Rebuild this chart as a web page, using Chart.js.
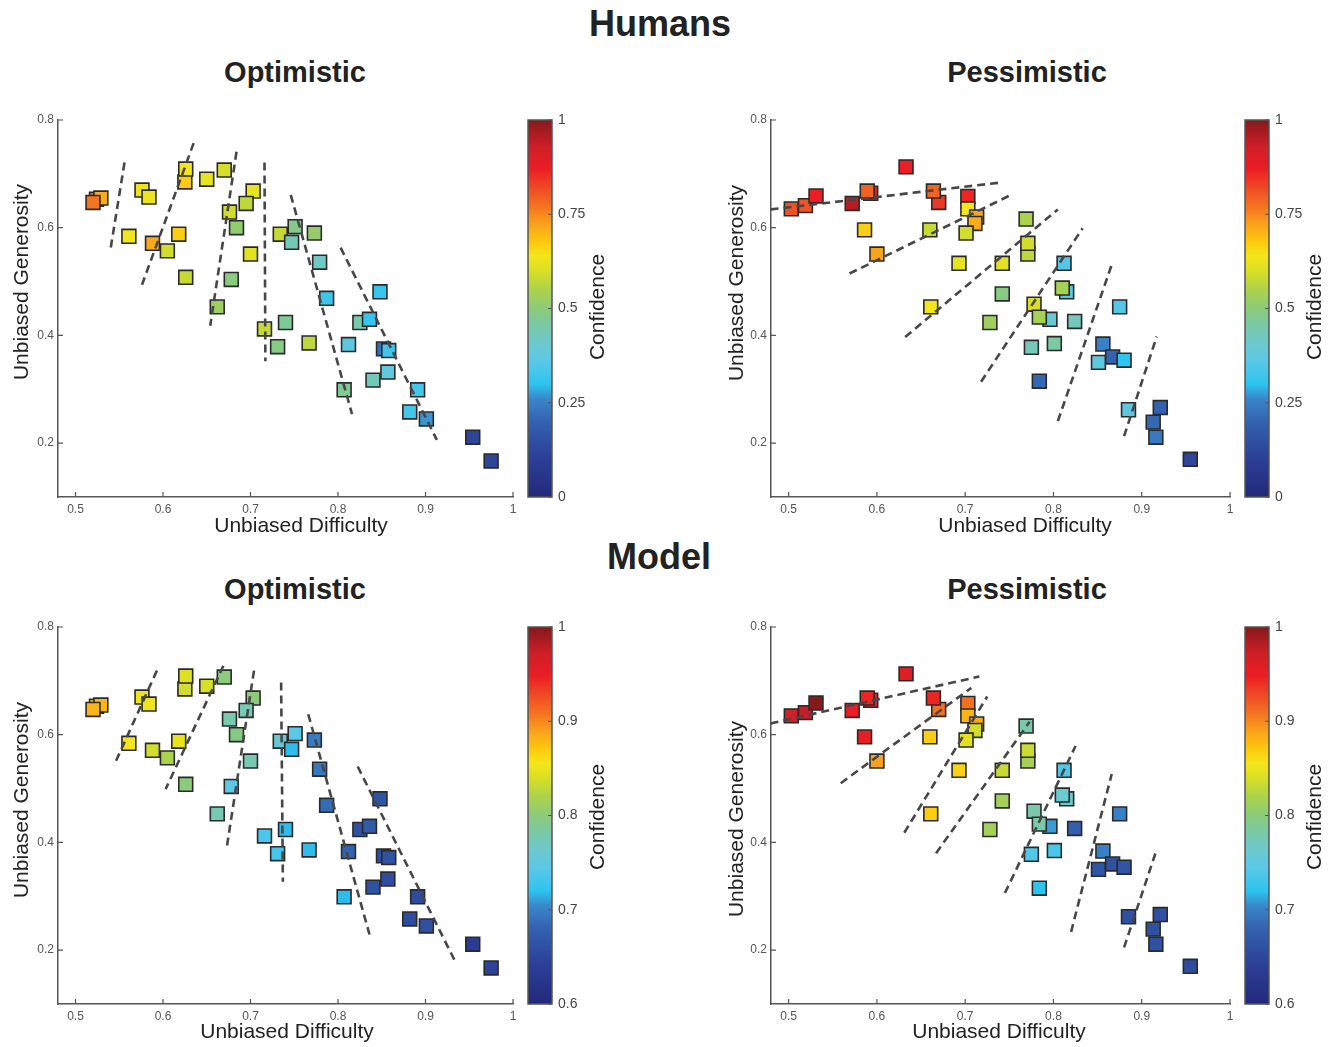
<!DOCTYPE html>
<html>
<head>
<meta charset="utf-8">
<script src="https://cdn.jsdelivr.net/npm/chart.js@4/dist/chart.umd.min.js"></script>
<style>
  html,body{margin:0;padding:0;background:#fff;}
  body{width:1335px;height:1047px;position:relative;overflow:hidden;font-family:"Liberation Sans",Arial,Helvetica,sans-serif;}
  .t{position:absolute;transform:translate(-50%,-50%);white-space:nowrap;font-weight:bold;color:#222;}
  .big{font-size:36px;}
  .sub{font-size:29px;}
  canvas{position:absolute;}
</style>
</head>
<body>
<div class="t big" style="left:660px;top:24px">Humans</div>
<div class="t big" style="left:659px;top:557px">Model</div>
<div class="t sub" style="left:295px;top:72px">Optimistic</div>
<div class="t sub" style="left:1027px;top:72px">Pessimistic</div>
<div class="t sub" style="left:295px;top:589px">Optimistic</div>
<div class="t sub" style="left:1027px;top:589px">Pessimistic</div>
<canvas id="c0" width="660" height="450" style="left:0px;top:100px"></canvas>
<canvas id="c1" width="635" height="450" style="left:700px;top:100px"></canvas>
<canvas id="c2" width="660" height="440" style="left:0px;top:607px"></canvas>
<canvas id="c3" width="635" height="440" style="left:700px;top:607px"></canvas>
<script>
// ---------------- DATA ----------------
const xTicks = [0.5, 0.6, 0.7, 0.8, 0.9, 1];
const yTicks = [0.2, 0.4, 0.6, 0.8];
const humanCbTicks = [0, 0.25, 0.5, 0.75, 1];
const modelCbTicks = [0.6, 0.7, 0.8, 0.9, 1];

// Optimistic condition: difficulty (x) and generosity (y)
const optX = [0.524,0.529,0.520,0.576,0.584,0.561,0.588,0.605,0.618,0.626,0.625,0.626,0.650,0.670,0.703,0.695,0.676,0.684,0.700,0.678,0.662,0.716,0.734,0.751,0.747,0.773,0.779,0.787,0.740,0.731,0.767,0.812,0.825,0.836,0.848,0.852,0.858,0.857,0.840,0.807,0.891,0.882,0.901,0.954,0.975];
const optY = [0.653,0.655,0.647,0.670,0.657,0.584,0.571,0.557,0.588,0.508,0.685,0.709,0.690,0.707,0.668,0.645,0.629,0.600,0.551,0.504,0.453,0.412,0.588,0.602,0.573,0.590,0.536,0.469,0.424,0.379,0.386,0.383,0.424,0.430,0.481,0.375,0.372,0.332,0.317,0.299,0.299,0.258,0.245,0.211,0.167];
const humanOptConf = [0.80,0.71,0.77,0.63,0.63,0.635,0.715,0.59,0.67,0.58,0.675,0.64,0.62,0.595,0.62,0.57,0.59,0.51,0.615,0.495,0.53,0.58,0.58,0.485,0.44,0.515,0.42,0.32,0.47,0.49,0.57,0.37,0.45,0.31,0.31,0.22,0.32,0.38,0.43,0.47,0.33,0.33,0.27,0.12,0.12];
const modelOptConf = [0.885,0.88,0.88,0.852,0.852,0.855,0.836,0.82,0.85,0.80,0.836,0.842,0.838,0.80,0.80,0.776,0.778,0.795,0.776,0.745,0.776,0.735,0.758,0.745,0.718,0.698,0.695,0.685,0.718,0.733,0.718,0.68,0.662,0.672,0.664,0.655,0.662,0.656,0.662,0.718,0.655,0.655,0.66,0.635,0.645];

// Pessimistic condition
const pesX = [0.503,0.519,0.531,0.572,0.593,0.589,0.633,0.670,0.664,0.703,0.703,0.713,0.711,0.701,0.660,0.586,0.600,0.693,0.742,0.661,0.742,0.728,0.769,0.771,0.771,0.812,0.815,0.810,0.778,0.796,0.784,0.824,0.875,0.775,0.801,0.784,0.856,0.851,0.867,0.880,0.885,0.921,0.913,0.916,0.955];
const pesY = [0.635,0.641,0.659,0.645,0.664,0.668,0.713,0.647,0.668,0.658,0.635,0.620,0.608,0.590,0.596,0.596,0.551,0.534,0.534,0.453,0.477,0.424,0.616,0.551,0.571,0.534,0.481,0.488,0.458,0.430,0.434,0.426,0.453,0.378,0.385,0.315,0.384,0.350,0.360,0.354,0.262,0.266,0.239,0.211,0.170];
const humanPesConf = [0.81,0.81,0.87,0.95,0.87,0.79,0.87,0.84,0.79,0.86,0.64,0.72,0.71,0.59,0.58,0.67,0.72,0.62,0.61,0.64,0.49,0.53,0.55,0.57,0.59,0.35,0.37,0.54,0.60,0.39,0.54,0.43,0.35,0.43,0.46,0.21,0.25,0.37,0.20,0.30,0.37,0.20,0.21,0.24,0.12];
const modelPesConf = [0.97,0.975,1.0,0.95,0.95,0.945,0.96,0.91,0.945,0.91,0.88,0.885,0.836,0.845,0.868,0.95,0.89,0.865,0.832,0.868,0.815,0.815,0.78,0.815,0.833,0.74,0.76,0.76,0.78,0.71,0.78,0.676,0.70,0.74,0.735,0.72,0.70,0.665,0.66,0.665,0.66,0.66,0.66,0.66,0.655];

// Dashed fit lines: [x1, y1, x2, y2]
const humanOptLines = [[0.556,0.721,0.540,0.560],[0.635,0.757,0.576,0.494],[0.684,0.741,0.654,0.418],[0.716,0.721,0.717,0.352],[0.746,0.661,0.816,0.254],[0.803,0.563,0.913,0.206]];
const humanPesLines = [[0.4795,0.634,0.741,0.684],[0.569,0.515,0.752,0.661],[0.632,0.397,0.805,0.634],[0.718,0.314,0.833,0.599],[0.805,0.241,0.867,0.536],[0.880,0.213,0.917,0.398]];
const modelOptLines = [[0.593,0.719,0.544,0.543],[0.669,0.728,0.603,0.499],[0.704,0.719,0.673,0.392],[0.735,0.697,0.737,0.327],[0.766,0.638,0.836,0.229],[0.8225,0.541,0.933,0.182]];
const modelPesLines = [[0.4795,0.621,0.716,0.708],[0.559,0.510,0.707,0.687],[0.631,0.418,0.725,0.671],[0.667,0.380,0.773,0.624],[0.745,0.306,0.825,0.579],[0.820,0.234,0.866,0.527],[0.880,0.205,0.917,0.387]];

// ---------------- STYLE ----------------
const FONT = '"Liberation Sans", Arial, Helvetica, sans-serif';
const cmapStops = [
  [0.00,'#22297a'],[0.10,'#2b3f95'],[0.20,'#3462ae'],[0.26,'#3a86ca'],[0.30,'#2ec4ef'],
  [0.36,'#5ac8e6'],[0.41,'#6ec9cc'],[0.46,'#7cc9a2'],[0.50,'#8ccb7a'],[0.55,'#abd24c'],
  [0.60,'#dadf24'],[0.64,'#f5e61a'],[0.68,'#fdc60e'],[0.72,'#f9a51b'],[0.77,'#f47421'],
  [0.82,'#ef4a24'],[0.87,'#ec1d24'],[0.93,'#cd1f27'],[1.00,'#85191b']
];
function hex2rgb(h){return [parseInt(h.slice(1,3),16),parseInt(h.slice(3,5),16),parseInt(h.slice(5,7),16)];}
function cmap(f){
  f = Math.max(0, Math.min(1, f));
  for (let i = 1; i < cmapStops.length; i++) {
    if (f <= cmapStops[i][0]) {
      const [f0,c0] = cmapStops[i-1], [f1,c1] = cmapStops[i];
      const t = (f - f0) / (f1 - f0);
      const a = hex2rgb(c0), b = hex2rgb(c1);
      return 'rgb(' + a.map((v,k)=>Math.round(v + (b[k]-v)*t)).join(',') + ')';
    }
  }
  return cmapStops[cmapStops.length-1][1];
}
const fmt = v => String(+(+v).toFixed(2));

const decor = {
  id: 'decor',
  afterDraw(chart, args, o) {
    const ctx = chart.ctx, ca = chart.chartArea;
    const sx = chart.scales.x, sy = chart.scales.y, cb = chart.scales.cb;
    ctx.save();
    // colour bar
    const bx = ca.right + 15, bw = 24, top = cb.top, bot = cb.bottom;
    const g = ctx.createLinearGradient(0, bot, 0, top);
    cmapStops.forEach(s => g.addColorStop(s[0], s[1]));
    ctx.fillStyle = g;
    ctx.fillRect(bx, top, bw, bot - top);
    ctx.strokeStyle = '#555'; ctx.lineWidth = 1.5;
    ctx.strokeRect(bx, top, bw, bot - top);
    ctx.beginPath();
    cb.ticks.forEach(t => { const p = cb.getPixelForValue(t.value); ctx.moveTo(bx + bw - 4, p); ctx.lineTo(bx + bw, p); });
    // inward axis ticks
    sx.ticks.forEach(t => { const p = sx.getPixelForValue(t.value); ctx.moveTo(p, ca.bottom); ctx.lineTo(p, ca.bottom - 5); });
    sy.ticks.forEach(t => { const p = sy.getPixelForValue(t.value); ctx.moveTo(ca.left, p); ctx.lineTo(ca.left + 5, p); });
    ctx.strokeStyle = '#555'; ctx.lineWidth = 1.2;
    ctx.stroke();
    // axis titles
    ctx.fillStyle = '#222';
    ctx.font = '21px ' + FONT;
    ctx.textAlign = 'center'; ctx.textBaseline = 'middle';
    ctx.fillText(o.xTitle, o.xt[0], o.xt[1]);
    ctx.save(); ctx.translate(o.yt[0], o.yt[1]); ctx.rotate(-Math.PI/2); ctx.fillText(o.yTitle, 0, 0); ctx.restore();
    ctx.save(); ctx.translate(o.ct[0], o.ct[1]); ctx.rotate(-Math.PI/2); ctx.fillText(o.cTitle, 0, 0); ctx.restore();
    ctx.restore();
  }
};

function makePanel(id, geom, xs, ys, conf, cbTicks, lines, txt) {
  const cmin = cbTicks[0], cmax = cbTicks[cbTicks.length - 1];
  const canvas = document.getElementById(id);
  const L = geom.L, T = geom.T, W = canvas.width, H = canvas.height;
  const [x0, y0, x1, y1] = geom.area;
  const datasets = lines.map(l => ({
    type: 'line',
    data: [{x: l[0], y: l[1]}, {x: l[2], y: l[3]}],
    borderColor: '#474747', borderWidth: 2.6, borderDash: [8, 5],
    pointRadius: 0, pointHoverRadius: 0, fill: false, order: 0
  }));
  datasets.push({
    type: 'scatter',
    data: xs.map((x, i) => ({x: x, y: ys[i]})),
    pointStyle: 'rect', pointRadius: 9.8, pointHoverRadius: 9.8,
    pointBackgroundColor: conf.map(c => cmap((c - cmin) / (cmax - cmin))),
    pointBorderColor: '#2a2a2a', pointBorderWidth: 1.6, pointHoverBorderWidth: 1.6,
    order: 1, clip: false
  });
  const tickFont = {family: FONT, size: 12};
  const chart = new Chart(canvas, {
    type: 'scatter',
    data: {datasets},
    plugins: [decor],
    options: {
      responsive: false, animation: false, devicePixelRatio: 1,
      events: [],
      layout: {padding: {top: y0 - T, left: 0, right: 0, bottom: 0}},
      plugins: {
        legend: {display: false}, tooltip: {enabled: false}, title: {display: false},
        decor: {
          xTitle: 'Unbiased Difficulty', yTitle: 'Unbiased Generosity', cTitle: 'Confidence',
          xt: [txt.xt[0] - L, txt.xt[1] - T], yt: [txt.yt[0] - L, txt.yt[1] - T], ct: [txt.ct[0] - L, txt.ct[1] - T]
        }
      },
      scales: {
        x: {
          type: 'linear', position: 'bottom', min: 0.48, max: 1,
          afterBuildTicks: s => { s.ticks = xTicks.map(v => ({value: v})); },
          afterFit: s => { s.height = (T + H) - y1; },
          ticks: {callback: fmt, font: tickFont, color: '#555', padding: 5, maxRotation: 0, autoSkip: false},
          grid: {display: false, drawTicks: false},
          border: {display: true, color: '#555', width: 1.5}
        },
        y: {
          type: 'linear', position: 'left', min: 0.1, max: 0.8,
          afterBuildTicks: s => { s.ticks = yTicks.map(v => ({value: v})); },
          afterFit: s => { s.width = x0 - L; },
          ticks: {callback: fmt, font: tickFont, color: '#555', padding: 4, autoSkip: false},
          grid: {display: false, drawTicks: false},
          border: {display: true, color: '#555', width: 1.5}
        },
        cb: {
          type: 'linear', position: 'right', min: cmin, max: cmax,
          afterBuildTicks: s => { s.ticks = cbTicks.map(v => ({value: v})); },
          afterFit: s => { s.width = (L + W) - x1; },
          ticks: {callback: fmt, font: {family: FONT, size: 14}, color: '#444', padding: 4, autoSkip: false},
          grid: {display: true, drawOnChartArea: false, drawTicks: true, tickLength: 41, color: 'rgba(0,0,0,0)'},
          border: {display: false}
        }
      }
    }
  });
  // safety: make sure the plot area sits exactly where intended
  const dTop = y0 - T - chart.chartArea.top;
  if (Math.abs(dTop) > 0.5) {
    chart.options.layout.padding.top += dTop;
    chart.update();
  }
  return chart;
}

makePanel('c0', {L: 0, T: 100, area: [58, 120, 513, 497]}, optX, optY, humanOptConf, humanCbTicks, humanOptLines,
  {xt: [301, 526], yt: [22, 282], ct: [598, 307]});
makePanel('c1', {L: 700, T: 100, area: [771, 120, 1230, 497]}, pesX, pesY, humanPesConf, humanCbTicks, humanPesLines,
  {xt: [1025, 526], yt: [737, 283], ct: [1315, 307]});
makePanel('c2', {L: 0, T: 607, area: [58, 627, 513, 1004]}, optX, optY, modelOptConf, modelCbTicks, modelOptLines,
  {xt: [287, 1032], yt: [22, 800], ct: [598, 817]});
makePanel('c3', {L: 700, T: 607, area: [771, 627, 1230, 1004]}, pesX, pesY, modelPesConf, modelCbTicks, modelPesLines,
  {xt: [999, 1032], yt: [737, 819], ct: [1315, 817]});
</script>
</body>
</html>
